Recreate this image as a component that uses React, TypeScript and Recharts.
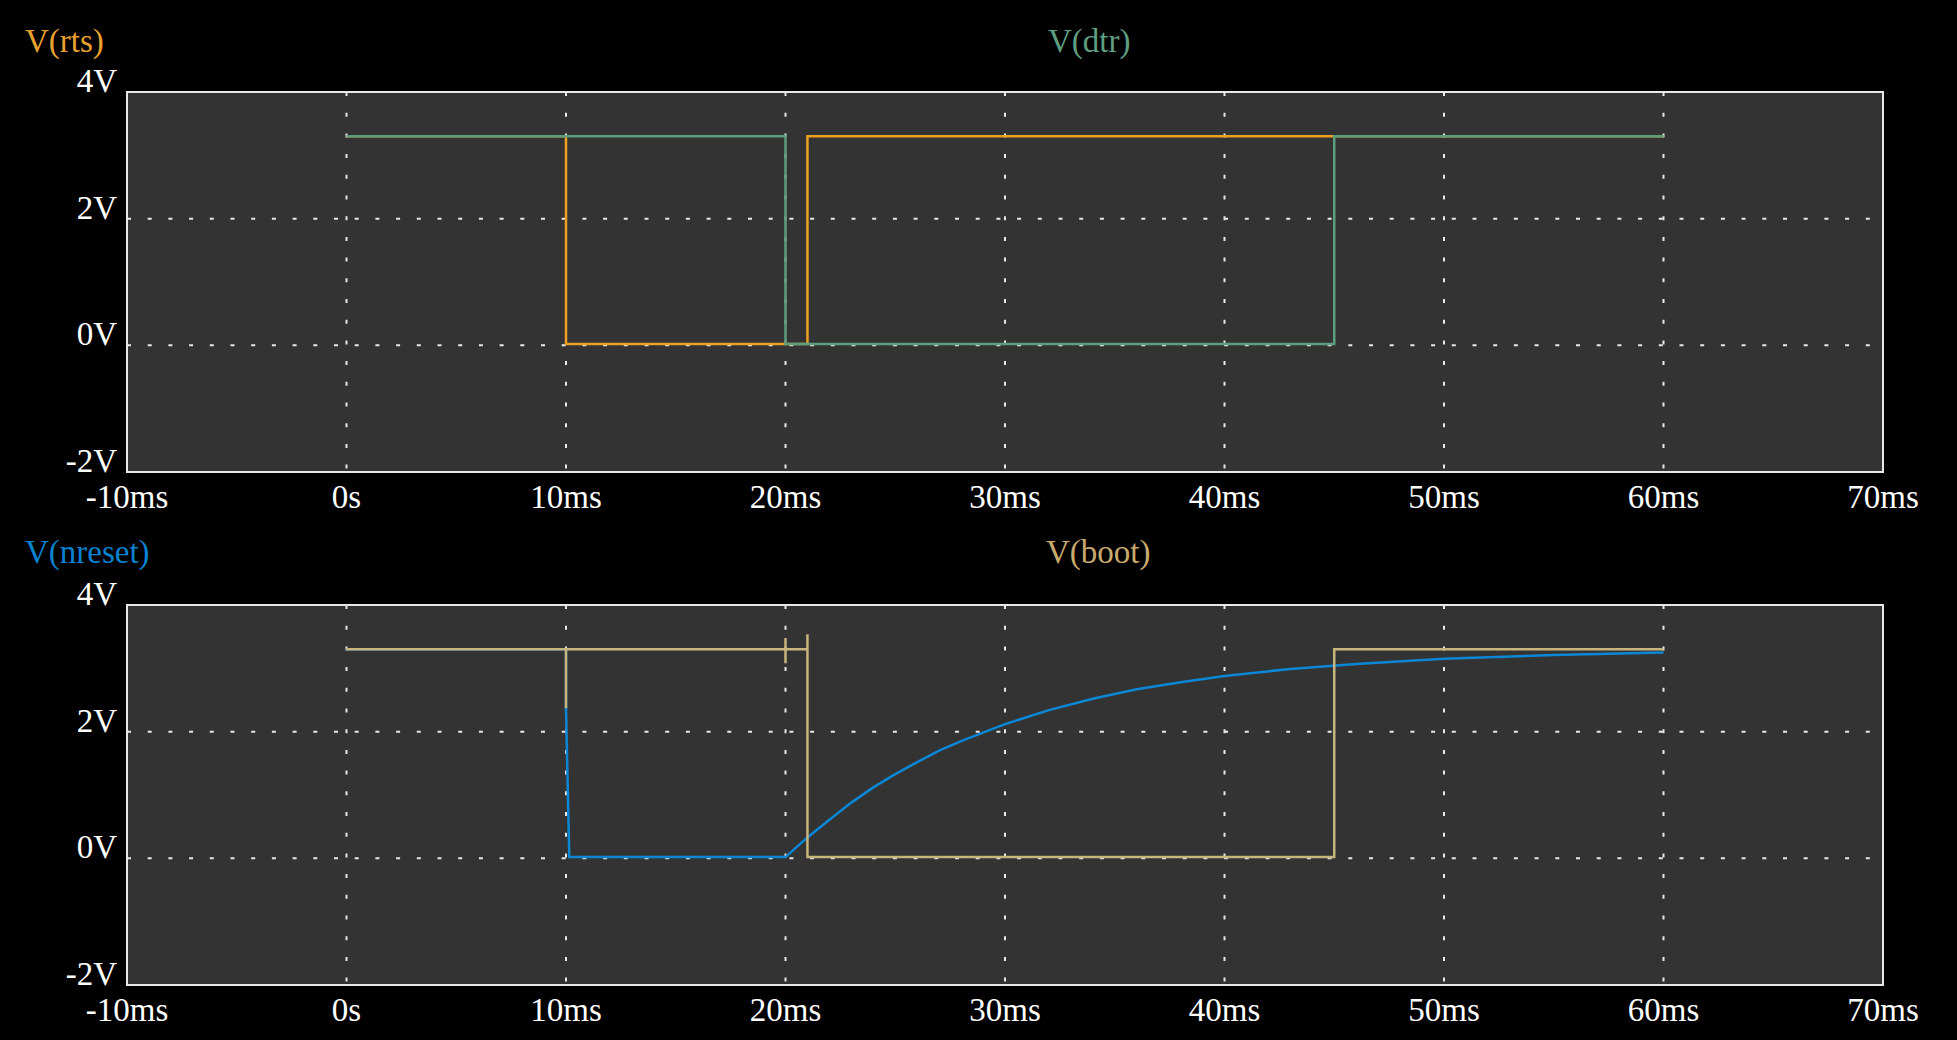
import React from "react";
import { LineChart, Line, XAxis, YAxis, CartesianGrid, ReferenceArea } from "recharts";

// time ticks (ms) and voltage ticks (V)
const xTicks = [-10, 0, 10, 20, 30, 40, 50, 60, 70];
const xTickLabels = ["-10ms", "0s", "10ms", "20ms", "30ms", "40ms", "50ms", "60ms", "70ms"];
const yTicks = [-2, 0, 2, 4];
const yTickLabels = ["-2V", "0V", "2V", "4V"];

// V(rts)
const rtsT = [0, 10, 10, 21, 21, 60];
const rtsV = [3.3, 3.3, 0.02, 0.02, 3.3, 3.3];
// V(dtr)
const dtrT = [0, 20, 20, 45, 45, 60];
const dtrV = [3.3, 3.3, 0.02, 0.02, 3.3, 3.3];
// V(nreset)
const nresetT = [0, 10, 10, 10.15, 20, 21, 22, 23, 24, 25, 26, 27, 28, 30, 32, 34, 36, 38, 40, 43, 46, 50, 55, 60];
const nresetV = [3.3, 3.3, 2.37, 0.02, 0.02, 0.33, 0.61, 0.88, 1.12, 1.33, 1.52, 1.7, 1.85, 2.12, 2.34, 2.52, 2.67, 2.78, 2.88, 2.99, 3.07, 3.15, 3.21, 3.25];
// V(boot)
const bootT = [0, 10, 10, 10, 20, 20, 20, 20, 21, 21, 21, 45, 45, 60];
const bootV = [3.3, 3.3, 2.37, 3.3, 3.3, 3.48, 3.08, 3.3, 3.3, 3.54, 0.02, 0.02, 3.3, 3.3];

const toData = (t: number[], v: number[]) => t.map((tt, i) => ({ t: tt, v: v[i] }));

const COLORS = {
  rts: "#F0A020",
  dtr: "#5C9E7E",
  nreset: "#0B87D6",
  boot: "#C8B47D",
};

const FONT = "'Liberation Serif', 'Times New Roman', serif";
const FS = 33;
const W = 1957;
const H = 520;

const XTick = (props: any) => {
  const { x, y, payload } = props;
  const idx = xTicks.indexOf(payload.value);
  return (
    <text x={x} y={y + 36} textAnchor="middle" fill="#ffffff" fontFamily={FONT} fontSize={FS}>
      {xTickLabels[idx]}
    </text>
  );
};

const YTick = (props: any) => {
  const { x, y, payload } = props;
  const idx = yTicks.indexOf(payload.value);
  return (
    <text x={x - 10} y={y} textAnchor="end" fill="#ffffff" fontFamily={FONT} fontSize={FS}>
      {yTickLabels[idx]}
    </text>
  );
};

type Series = { name: string; data: { t: number; v: number }[]; color: string };

const Panel = ({ series, top }: { series: Series[]; top: number }) => (
  <div style={{ position: "absolute", left: 0, top }}>
    <LineChart width={W} height={H} margin={{ top: 92, right: 74, bottom: 0, left: 27 }}>
      <CartesianGrid
        fill="#333333"
        stroke="#e8e8e8"
        strokeWidth={2}
        strokeDasharray="4 16.7"
      />
      <XAxis
        dataKey="t"
        type="number"
        domain={[-10, 70]}
        ticks={xTicks}
        interval={0}
        axisLine={false}
        tickLine={false}
        tickSize={0}
        tickMargin={0}
        height={48}
        tick={<XTick />}
        allowDuplicatedCategory={false}
      />
      <YAxis
        type="number"
        domain={[-2, 4]}
        ticks={yTicks}
        interval={0}
        axisLine={false}
        tickLine={false}
        tickSize={0}
        tickMargin={0}
        width={100}
        tick={<YTick />}
      />
      {series.map((s) => (
        <Line
          key={s.name}
          data={s.data}
          dataKey="v"
          type="linear"
          stroke={s.color}
          strokeWidth={2.5}
          dot={false}
          activeDot={false}
          isAnimationActive={false}
        />
      ))}
      <ReferenceArea x1={-10} x2={70} y1={-2} y2={4} fill="none" stroke="#e8e8e8" strokeWidth={2} />
    </LineChart>
  </div>
);

export default function App() {
  const top: Series[] = [
    { name: "rts", data: toData(rtsT, rtsV), color: COLORS.rts },
    { name: "dtr", data: toData(dtrT, dtrV), color: COLORS.dtr },
  ];
  const bottom: Series[] = [
    { name: "nreset", data: toData(nresetT, nresetV), color: COLORS.nreset },
    { name: "boot", data: toData(bootT, bootV), color: COLORS.boot },
  ];
  return (
    <div style={{ position: "fixed", left: 0, top: 0, width: W, height: 1040, background: "#000000", overflow: "hidden" }}>
      <Panel series={top} top={0} />
      <Panel series={bottom} top={513} />
      <svg width={W} height={1040} style={{ position: "absolute", left: 0, top: 0, pointerEvents: "none" }}>
        <text x={25} y={52} fill="#E8A030" fontFamily={FONT} fontSize={FS}>V(rts)</text>
        <text x={1048} y={52} fill="#5E9E80" fontFamily={FONT} fontSize={FS}>V(dtr)</text>
        <text x={25} y={563} fill="#0A82D0" fontFamily={FONT} fontSize={FS}>V(nreset)</text>
        <text x={1046} y={563} fill="#C8AA6E" fontFamily={FONT} fontSize={FS}>V(boot)</text>
      </svg>
    </div>
  );
}
